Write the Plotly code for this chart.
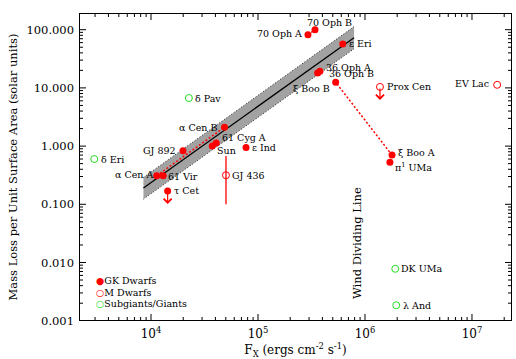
import math
import plotly.graph_objects as go

# ---------------- data ----------------
gk_names = ["70 Oph A", "70 Oph B", "ε Eri", "36 Oph A", "36 Oph B", "ξ Boo B",
            "ξ Boo A", "π<sup>1</sup> UMa", "α Cen B", "61 Cyg A", "Sun", "ε Ind",
            "GJ 892", "α Cen A", "61 Vir", "τ Cet"]
gk_fx = [2.93e5, 3.41e5, 6.2e5, 3.79e5, 3.61e5, 5.32e5,
         1.79e6, 1.71e6, 4.86e4, 4.07e4, 3.74e4, 7.73e4,
         1.99e4, 1.13e4, 1.30e4, 1.43e4]
gk_mdot = [82, 100, 57, 19.4, 18.1, 12.5,
           0.70, 0.53, 2.11, 1.13, 1.0, 0.95,
           0.83, 0.31, 0.31, 0.17]

m_names = ["Prox Cen", "EV Lac", "GJ 436"]
m_fx = [1.38e6, 1.72e7, 5.02e4]
m_mdot = [10.4, 11.3, 0.316]

giant_names = ["δ Pav", "δ Eri", "DK UMa", "λ And"]
giant_fx = [2.26e4, 2950, 1.92e6, 1.96e6]
giant_mdot = [6.7, 0.60, 0.0078, 0.00184]

# GJ 436 error bar extent (only GJ 436 has one)
m_err_plus = [0, 0, 0.36]
m_err_minus = [0, 0, 0.216]

# upper limits (drawn with a downward arrow)
upper_limit_names = ["τ Cet", "Prox Cen"]

# binary pairs joined by a dotted line
binary_pairs = [("α Cen A", "α Cen B"), ("70 Oph A", "70 Oph B"),
                ("36 Oph A", "36 Oph B"), ("ξ Boo A", "ξ Boo B")]

# power-law fit and its uncertainty band (end points)
fit_fx = [8.5e3, 7.9e5]
fit_mdot = [0.19, 73]
fit_band_lo = [0.123, 47]
fit_band_hi = [0.29, 113]

wind_dividing_fx = 1e6

x_range_log = [3.327, 7.374]
y_range_log = [-3.005, 2.287]

x_tick_vals = [1e4, 1e5, 1e6, 1e7]
x_tick_text = ["10<sup>4</sup>", "10<sup>5</sup>", "10<sup>6</sup>", "10<sup>7</sup>"]
y_tick_vals = [100, 10, 1, 0.1, 0.01, 0.001]
y_tick_text = ["100.000", "10.000", "1.000", "0.100", "0.010", "0.001"]

legend_entries = [("GK Dwarfs", "●", "#ff0000"),
                  ("M Dwarfs", "○", "#ff0000"),
                  ("Subgiants/Giants", "○", "#22dd22")]

# minor tick positions (2..9 within each decade), kept inside the axis ranges
x_minor = [k * 10 ** d for d in range(3, 8) for k in range(2, 10)
           if x_range_log[0] < math.log10(k * 10 ** d) < x_range_log[1]]
y_minor = [k * 10 ** d for d in range(-3, 3) for k in range(2, 10)
           if y_range_log[0] < math.log10(k * 10 ** d) < y_range_log[1]]

# ---------------- styling / layout ----------------
RED = "#ff0000"
GREEN = "#22dd22"
LABEL_FONT = dict(family="DejaVu Serif", size=9.5, color="black")
MAJOR_LEN, MINOR_LEN = 7, 4
W, H = 516, 359
MARGIN = dict(l=79, r=4, t=13, b=38)
px_per_dec_x = (W - MARGIN["l"] - MARGIN["r"]) / (x_range_log[1] - x_range_log[0])
px_per_dec_y = (H - MARGIN["t"] - MARGIN["b"]) / (y_range_log[1] - y_range_log[0])

# label placement: (xanchor, xshift px, yshift px)
label_offsets = {
    "70 Oph A": ("right", -4, 1), "70 Oph B": ("left", -10, 7),
    "ε Eri": ("left", 4, 0), "36 Oph A": ("left", 4, 4),
    "36 Oph B": ("left", 9, -1), "ξ Boo B": ("right", -4, -6),
    "ξ Boo A": ("left", 4, 3), "π<sup>1</sup> UMa": ("left", 3, -5),
    "α Cen B": ("right", -5, 0), "61 Cyg A": ("left", 4, 6),
    "Sun": ("left", 3, -4), "ε Ind": ("left", 4, 0),
    "GJ 892": ("right", -5, 0), "α Cen A": ("right", -2, 1),
    "61 Vir": ("left", 3, -1), "τ Cet": ("left", 4, 0),
    "Prox Cen": ("left", 5, 0), "EV Lac": ("right", -6, 1),
    "GJ 436": ("left", 4, 0), "δ Pav": ("left", 4, 0),
    "δ Eri": ("left", 5, 0), "DK UMa": ("left", 4, 0),
    "λ And": ("left", 5, 0),
}

fig = go.Figure()

# uncertainty band of the fit
fig.add_trace(go.Scatter(
    x=fit_fx + fit_fx[::-1], y=fit_band_hi + fit_band_lo[::-1],
    mode="lines", fill="toself", fillcolor="#a2a2a2",
    line=dict(width=0), hoverinfo="skip", showlegend=False))
for edge in (fit_band_hi, fit_band_lo):
    fig.add_trace(go.Scatter(x=fit_fx, y=edge, mode="lines",
                             line=dict(color="#222222", width=1, dash="1px,2px"),
                             showlegend=False, hoverinfo="skip"))
fig.add_trace(go.Scatter(x=fit_fx, y=fit_mdot, mode="lines",
                         line=dict(color="black", width=1.3),
                         showlegend=False, hoverinfo="skip"))

# wind dividing line
fig.add_shape(type="line", xref="x", yref="paper",
              x0=math.log10(wind_dividing_fx), x1=math.log10(wind_dividing_fx),
              y0=0, y1=1, line=dict(color="#555555", width=2, dash="8px,4px"))

# binary connections
all_fx = dict(zip(gk_names, gk_fx))
all_md = dict(zip(gk_names, gk_mdot))
bx, by = [], []
for a, b in binary_pairs:
    bx += [all_fx[a], all_fx[b], None]
    by += [all_md[a], all_md[b], None]
fig.add_trace(go.Scatter(x=bx, y=by, mode="lines",
                         line=dict(color=RED, width=1.5, dash="2px,2px"),
                         showlegend=False, hoverinfo="skip"))

# M dwarfs (with the GJ 436 error bar)
fig.add_trace(go.Scatter(
    x=m_fx, y=m_mdot, mode="markers",
    marker=dict(symbol="circle-open", size=7, color=RED, line=dict(width=1)),
    error_y=dict(type="data", array=m_err_plus, arrayminus=m_err_minus,
                 color=RED, thickness=1.3, width=0),
    name="M Dwarfs", showlegend=False))

# GK dwarfs
fig.add_trace(go.Scatter(x=gk_fx, y=gk_mdot, mode="markers",
                         marker=dict(symbol="circle", size=7, color=RED),
                         name="GK Dwarfs", showlegend=False))

# subgiants / giants
fig.add_trace(go.Scatter(x=giant_fx, y=giant_mdot, mode="markers",
                         marker=dict(symbol="circle-open", size=7, color=GREEN,
                                     line=dict(width=1)),
                         name="Subgiants/Giants", showlegend=False))

# ---- plot frame and inward tick marks on all four sides (as line traces) ----
x_lo, x_hi = 10 ** x_range_log[0], 10 ** x_range_log[1]
y_lo, y_hi = 10 ** y_range_log[0], 10 ** y_range_log[1]
fig.add_trace(go.Scatter(x=[x_lo, x_hi, x_hi, x_lo, x_lo],
                         y=[y_lo, y_lo, y_hi, y_hi, y_lo], mode="lines",
                         line=dict(color="black", width=2),
                         showlegend=False, hoverinfo="skip"))
tx, ty = [], []
for vals, length in ((x_tick_vals, MAJOR_LEN), (x_minor, MINOR_LEN)):
    f = 10 ** (length / px_per_dec_y)
    for v in vals:
        tx += [v, v, None, v, v, None]
        ty += [y_lo, y_lo * f, None, y_hi, y_hi / f, None]
for vals, length in ((y_tick_vals, MAJOR_LEN), (y_minor, MINOR_LEN)):
    f = 10 ** (length / px_per_dec_x)
    for v in vals:
        tx += [x_lo, x_lo * f, None, x_hi, x_hi / f, None]
        ty += [v, v, None, v, v, None]
fig.add_trace(go.Scatter(x=tx, y=ty, mode="lines",
                         line=dict(color="black", width=1),
                         showlegend=False, hoverinfo="skip"))

# point labels
for names, fxs, mds in ((gk_names, gk_fx, gk_mdot), (m_names, m_fx, m_mdot),
                        (giant_names, giant_fx, giant_mdot)):
    for n, fx, md in zip(names, fxs, mds):
        anc, dx, dy = label_offsets[n]
        fig.add_annotation(x=math.log10(fx), y=math.log10(md), text=n,
                           showarrow=False, xanchor=anc, yanchor="middle",
                           xshift=dx, yshift=dy, font=LABEL_FONT)

# upper limit arrows
lookup_fx = {**dict(zip(gk_names, gk_fx)), **dict(zip(m_names, m_fx))}
lookup_md = {**dict(zip(gk_names, gk_mdot)), **dict(zip(m_names, m_mdot))}
for n in upper_limit_names:
    fig.add_annotation(x=math.log10(lookup_fx[n]), y=math.log10(lookup_md[n]),
                       text="", showarrow=True, ax=0, ay=-13, yshift=-13,
                       arrowhead=4, arrowsize=1.3, arrowwidth=1.2, arrowcolor=RED)

# wind dividing line label
fig.add_annotation(x=math.log10(wind_dividing_fx), xref="x", y=0.253, yref="paper",
                   text="Wind Dividing Line", textangle=-90, showarrow=False,
                   xanchor="center", yanchor="middle",
                   xshift=-8, font=dict(family="DejaVu Serif", size=11.5, color="black"))

# legend (text based)
for i, (txt, glyph, col) in enumerate(legend_entries):
    fig.add_annotation(
        xref="paper", yref="paper", x=0.035, y=0.130 - i * 0.037,
        xanchor="left", yanchor="middle", showarrow=False,
        text=f"<span style='color:{col}'>{glyph}</span>{txt}", font=LABEL_FONT)

axis_common = dict(type="log", showline=False, ticks="", showgrid=False,
                   zeroline=False)

fig.update_xaxes(**axis_common, range=x_range_log,
                 tickmode="array", tickvals=x_tick_vals, ticktext=x_tick_text,
                 ticklabelstandoff=4,
                 tickfont=dict(family="DejaVu Serif", size=12, color="black"),
                 title=dict(text="F<sub>X</sub> (ergs cm<sup>-2</sup> s<sup>-1</sup>)",
                            font=dict(family="DejaVu Serif", size=12, color="black"),
                            standoff=4))
fig.update_yaxes(**axis_common, range=y_range_log,
                 tickmode="array", tickvals=y_tick_vals, ticktext=y_tick_text,
                 ticklabelstandoff=4,
                 tickfont=dict(family="DejaVu Serif", size=11.5, color="black"),
                 title=dict(text="Mass Loss per Unit Surface Area (solar units)",
                            font=dict(family="DejaVu Serif", size=11.5, color="black"),
                            standoff=6))

fig.update_layout(width=W, height=H,
                  margin=dict(**MARGIN, autoexpand=False),
                  paper_bgcolor="white", plot_bgcolor="white", showlegend=False)

fig.write_html("out.html", config={"displayModeBar": False},
               post_script="document.body.style.margin='0';document.body.style.padding='0';")
